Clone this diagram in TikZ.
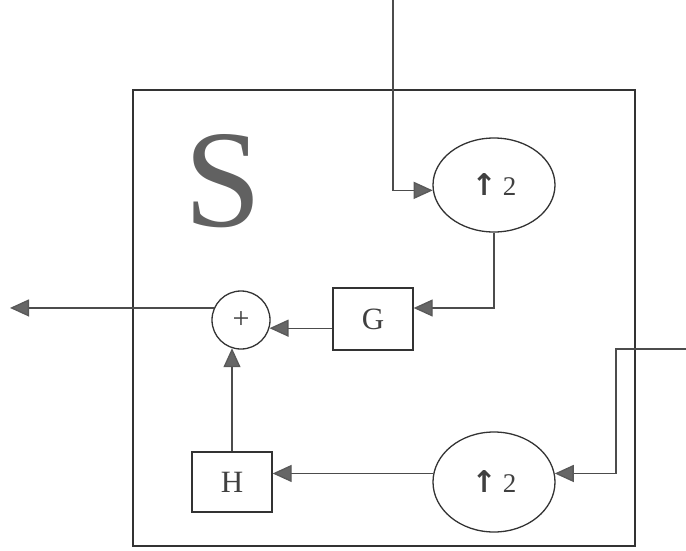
\documentclass[tikz,border=0pt]{standalone}
\usepackage{fontspec}
\setmainfont{Liberation Serif}
\newfontfamily\symfont{DejaVu Sans}
\usetikzlibrary{arrows.meta,shapes.geometric}

\begin{document}
\begin{tikzpicture}[x=1pt,y=-1pt,line width=1.3pt,
    wire/.style={draw=black!70,-{Triangle[length=19pt,width=17pt,color=black!65,fill=black!60]}},
    blockbox/.style={draw=black!80,text=black!75,minimum width=80pt,minimum height=60pt,
      inner sep=0pt,font=\fontsize{31}{31}\selectfont},
    upsampler/.style={ellipse,draw=black!80,text=black!75,minimum width=122pt,minimum height=94pt,
      inner sep=0pt,font=\fontsize{27}{27}\selectfont}]
    \useasboundingbox (0,0) rectangle (686,550);

    % system frame
    \draw[draw=black!80] (133,90) rectangle (635,546);
    \node[text=black!62,font=\fontsize{139}{139}\selectfont] (slabel) at (223,181) {S};

    \node[upsampler] (up1) at (494,185) {{\symfont\bfseries\fontsize{30}{30}\selectfont ↑}\hspace{6pt}2};
    \node[upsampler,minimum height=100pt] (up2) at (494,482) {{\symfont\bfseries\fontsize{30}{30}\selectfont ↑}\hspace{6pt}2};
    \node[blockbox,minimum height=62pt] (g) at (373,319) {G};
    \node[blockbox] (h) at (232,482) {H};
    \node[circle,draw=black!80,text=black!75,minimum size=58pt,inner sep=0pt,
      font=\fontsize{30}{30}\selectfont] (sum) at (241,320) {+};

    \coordinate (in1) at (393,0);
    \coordinate (in2) at (686,349);
    \coordinate (out) at (10,308);

    \draw[wire] (in1) |- (up1.185);
    \draw[wire] (up1.south) |- ([yshift=11pt]g.east);
    \draw[wire] (g.west |- sum.-16) -- (sum.-16);
    \draw[wire] (in2) -- ++(-70,0) |- (up2.8);
    \draw[wire] (up2.172) -- (h.east |- up2.172);
    \draw[wire] (h.north) -- (h.north |- sum.252);
    \draw[wire] (sum.156) -- (out |- sum.156);
  \end{tikzpicture}
\end{document}
